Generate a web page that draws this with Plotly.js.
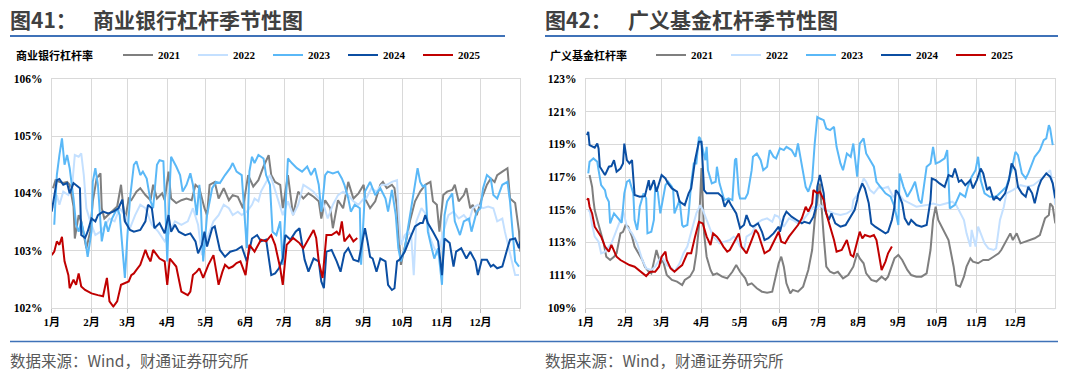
<!DOCTYPE html>
<html>
<head>
<meta charset="utf-8">
<script src="https://cdn.plot.ly/plotly-3.0.1.min.js"></script>
<style>html,body{margin:0;padding:0;background:#fff;}#chart{width:1080px;height:374px;}</style>
</head>
<body>
<div id="chart"></div>
<script>
// ---------- labels ----------
const monthStarts = [0,31,59,90,120,151,181,212,243,273,304,334];
const monthLabels = ['1月','2月','3月','4月','5月','6月','7月','8月','9月','10月','11月','12月'];
const years = ['2021','2022','2023','2024','2025'];
const yearColors = ['#7f7f7f','#c4e0ff','#5ab8f7','#0b4ea2','#c00000'];

// ---------- 商业银行杠杆率 (%), [day of year, value] ----------
const bank2021 = [[1,104.09],[3,104.23],[6,104.2],[9,104.18],[12,104.2],[14,104.15],[17,103.77],[18,103.21],[21,103.62],[23,103.51],[27,103.04],[30,103.33],[32,103.86],[35,104.26],[38,104.35],[39,103.74],[41,103.56],[47,103.68],[51,103.77],[54,104.15],[57,103.51],[60,103.91],[62,103.88],[66,104.03],[69,104.09],[73,103.97],[77,103.88],[79,104.15],[82,103.91],[86,104.0],[88,103.88],[91,104.38],[93,103.91],[97,103.83],[101,103.88],[105,103.91],[109,103.88],[112,104.15],[115,104.09],[119,103.74],[121,103.62],[123,104.15],[127,104.2],[130,103.91],[134,104.09],[138,103.88],[141,103.97],[145,103.94],[149,103.74],[153,104.32],[157,104.12],[161,104.23],[165,104.47],[169,104.67],[171,104.32],[174,104.2],[178,104.15],[180,103.74],[184,104.32],[188,103.62],[192,104.03],[196,103.91],[200,104.0],[204,103.94],[208,103.86],[210,103.56],[213,103.88],[217,103.74],[219,103.39],[223,103.88],[227,103.74],[231,104.2],[235,103.91],[239,104.0],[243,104.15],[244,103.91],[248,103.74],[252,103.86],[256,104.15],[258,104.2],[261,104.09],[265,104.15],[267,104.09],[269,103.74],[272,102.75],[276,103.16],[279,103.51],[283,103.86],[287,104.03],[291,104.15],[295,104.2],[297,103.86],[300,103.8],[302,103.33],[305,103.97],[308,104.03],[312,104.06],[314,104.15],[317,103.86],[321,103.97],[323,104.09],[326,103.74],[328,103.8],[331,103.62],[335,103.91],[339,104.15],[342,104.26],[345,104.2],[347,104.32],[351,104.38],[355,104.44],[357,103.91],[361,103.83],[364,103.33],[365,102.98]];
const bank2022 = [[2,103.74],[4,103.97],[6,103.8],[9,104.03],[13,103.97],[16,104.15],[18,104.67],[21,104.64],[23,104.7],[25,104.32],[27,103.74],[30,103.51],[34,103.27],[38,103.33],[42,103.45],[45,103.56],[49,103.51],[53,103.74],[57,103.62],[61,103.39],[65,103.62],[69,103.8],[73,103.74],[78,103.45],[83,103.33],[88,103.16],[92,103.33],[96,103.51],[101,103.45],[106,103.51],[110,103.74],[114,103.45],[117,102.92],[119,103.04],[122,103.27],[126,103.51],[130,103.62],[134,103.8],[138,103.74],[141,103.62],[145,103.68],[148,103.62],[152,103.68],[156,103.8],[158,103.91],[161,103.86],[163,104.03],[167,104.2],[170,104.32],[172,104.2],[177,103.86],[180,103.62],[184,103.86],[188,103.62],[192,103.8],[196,104.15],[200,104.09],[204,104.03],[208,103.91],[211,103.86],[215,103.56],[219,103.8],[223,103.97],[227,104.03],[231,103.97],[235,103.86],[239,103.8],[243,103.91],[245,103.91],[249,104.09],[253,104.03],[257,104.15],[261,104.15],[265,104.2],[269,104.23],[270,103.74],[272,103.1],[275,103.27],[278,103.33],[280,103.27],[282,102.57],[284,103.51],[288,103.74],[292,103.62],[294,103.27],[298,103.04],[301,102.92],[305,103.33],[309,103.62],[313,103.68],[317,103.56],[321,103.62],[325,103.51],[328,103.74],[332,103.8],[336,103.74],[340,103.77],[344,103.74],[347,103.51],[351,103.56],[353,103.33],[356,103.04],[359,102.75],[361,102.57],[364,102.57]];
const bank2023 = [[2,103.45],[4,104.32],[6,104.67],[8,104.96],[10,104.5],[12,104.67],[14,104.44],[17,103.91],[19,103.45],[21,103.33],[23,103.51],[26,103.21],[28,102.89],[31,103.33],[32,104.2],[34,104.44],[36,104.15],[38,103.51],[39,103.16],[42,103.51],[44,103.33],[47,103.56],[51,103.74],[53,103.62],[56,102.86],[57,102.52],[59,103.27],[61,103.91],[64,104.5],[66,104.56],[69,104.32],[71,104.38],[74,104.26],[77,103.86],[79,103.74],[82,104.5],[84,104.58],[87,104.56],[89,103.45],[90,102.81],[92,104.15],[93,104.64],[97,104.47],[100,104.32],[102,104.03],[105,104.15],[108,104.35],[110,104.15],[113,103.62],[115,104.15],[116,103.86],[118,102.81],[121,103.62],[125,104.09],[128,104.2],[131,104.18],[135,104.32],[139,104.44],[141,104.53],[144,104.38],[148,104.32],[151,103.42],[152,103.04],[154,104.38],[156,104.64],[158,104.53],[161,104.67],[165,104.61],[167,104.32],[170,104.15],[172,103.33],[175,103.27],[178,103.51],[180,102.75],[182,103.74],[184,104.61],[187,104.53],[191,104.44],[195,104.38],[199,104.47],[202,104.32],[205,104.44],[208,104.15],[210,103.68],[211,103.86],[213,104.32],[215,104.38],[219,104.35],[223,104.38],[226,104.26],[228,104.15],[231,103.91],[233,103.68],[236,103.8],[240,103.74],[241,102.75],[244,104.03],[248,104.2],[252,103.97],[256,104.09],[260,103.91],[262,103.68],[265,104.06],[268,103.62],[270,103.04],[272,102.81],[275,103.04],[280,103.74],[283,104.2],[285,104.44],[287,104.2],[289,104.12],[291,104.15],[293,103.33],[296,103.04],[298,102.86],[301,103.04],[304,102.4],[306,103.62],[308,103.86],[312,104.0],[314,103.51],[318,103.27],[321,103.51],[325,103.56],[327,103.33],[331,103.68],[334,103.74],[336,104.09],[339,104.32],[342,104.26],[344,103.97],[347,103.91],[349,104.03],[351,104.15],[355,104.2],[357,103.86],[359,103.33],[361,102.81],[364,102.72]];
const bank2024 = [[0,103.68],[4,104.23],[6,104.25],[9,104.15],[12,104.18],[14,104.0],[17,104.18],[19,104.15],[22,104.09],[23,103.27],[26,103.22],[28,103.33],[31,103.56],[34,103.51],[36,103.62],[40,103.68],[44,103.65],[48,103.68],[52,103.74],[55,103.89],[57,103.51],[61,103.36],[64,103.33],[69,103.36],[73,103.51],[75,103.8],[78,103.74],[80,103.39],[84,103.48],[88,103.3],[91,103.62],[93,103.33],[96,103.45],[99,103.33],[104,103.27],[108,103.3],[112,103.16],[114,102.95],[117,103.1],[119,103.33],[121,103.07],[125,103.39],[127,103.42],[131,103.01],[135,102.89],[139,102.98],[144,103.01],[148,103.07],[152,102.81],[156,103.21],[160,103.27],[163,103.16],[167,103.19],[171,102.57],[174,102.6],[177,102.69],[180,102.86],[182,103.27],[186,103.19],[190,103.33],[193,103.39],[197,102.84],[200,102.63],[204,102.86],[208,102.81],[210,102.46],[212,102.34],[214,102.98],[218,103.01],[222,102.81],[225,102.63],[228,102.95],[231,103.04],[235,102.84],[239,102.81],[241,103.04],[244,103.39],[246,103.16],[248,102.89],[250,102.86],[253,102.63],[256,102.86],[260,102.81],[262,102.4],[265,102.31],[267,102.34],[269,102.81],[271,102.84],[275,102.98],[279,103.21],[283,103.42],[287,103.48],[289,103.48],[291,103.62],[293,103.48],[297,103.33],[301,103.16],[304,102.57],[306,103.21],[310,103.13],[313,102.72],[315,102.98],[319,103.04],[323,102.86],[326,102.98],[330,102.81],[332,102.57],[335,102.84],[339,102.84],[342,102.72],[344,102.75],[347,102.69],[351,102.72],[355,103.04],[357,103.19],[361,103.21],[364,103.04],[365,103.16]];
const bank2025 = [[0,102.92],[2,102.98],[4,103.16],[6,103.1],[8,103.24],[9,103.04],[10,102.81],[13,102.57],[14,102.34],[17,102.49],[19,102.4],[21,102.6],[23,102.37],[26,102.31],[31,102.25],[36,102.22],[40,102.2],[43,102.52],[45,102.11],[48,102.02],[51,102.11],[54,102.4],[60,102.46],[62,102.57],[64,102.6],[66,102.66],[69,102.75],[73,103.01],[75,102.89],[77,102.81],[79,103.01],[82,102.92],[84,102.86],[88,102.81],[90,102.4],[92,102.86],[95,102.78],[97,102.72],[101,102.28],[106,102.22],[108,102.28],[110,102.57],[113,102.63],[115,102.69],[118,102.52],[122,102.75],[126,102.92],[130,102.4],[133,102.63],[135,102.75],[138,102.69],[141,102.72],[144,102.78],[147,102.81],[151,102.57],[154,103.1],[158,102.98],[163,103.19],[167,103.16],[171,103.27],[174,103.1],[178,102.69],[180,102.4],[183,103.1],[188,103.22],[193,103.13],[196,103.04],[199,103.16],[204,103.36],[206,103.22],[208,102.81],[211,102.52],[214,103.27],[218,103.27],[222,103.33],[224,103.27],[226,103.51],[228,103.16],[232,103.27],[235,103.16],[238,103.22]];

// ---------- 广义基金杠杆率 (%), [day of year, value] ----------
const fund2021 = [[3,117.12],[5,116.4],[6,115.59],[7,114.98],[9,114.37],[11,113.76],[14,112.94],[16,112.12],[19,111.92],[22,112.12],[24,112.33],[27,113.55],[29,113.65],[31,114.06],[33,113.96],[36,113.35],[38,112.74],[41,112.33],[44,111.92],[46,111.51],[49,111.2],[51,111.1],[54,112.33],[55,112.53],[58,111.72],[60,111.92],[63,111.0],[67,110.7],[71,110.6],[75,110.39],[77,110.7],[81,110.9],[84,111.31],[86,112.33],[88,113.96],[90,117.55],[92,113.55],[94,112.12],[97,111.31],[99,111.0],[102,111.1],[106,110.9],[110,110.8],[114,111.2],[117,111.61],[120,111.2],[124,110.8],[126,110.39],[129,110.49],[133,110.19],[137,109.98],[141,109.92],[145,109.98],[147,110.7],[150,111.72],[152,112.12],[154,111.51],[156,110.49],[159,109.88],[161,110.09],[165,109.98],[169,110.29],[173,111.31],[176,112.53],[178,114.37],[180,115.59],[182,116.6],[185,113.35],[187,111.51],[190,111.2],[193,111.1],[196,111.2],[200,110.8],[204,111.0],[208,111.51],[211,112.33],[213,112.02],[216,111.72],[218,111.1],[222,110.7],[226,110.6],[230,110.9],[233,110.7],[235,110.9],[238,111.51],[240,112.02],[243,112.23],[246,111.92],[250,111.31],[253,111.0],[257,110.9],[261,110.9],[265,111.1],[268,112.53],[270,114.37],[272,115.18],[274,114.37],[278,113.76],[282,113.14],[286,111.51],[288,110.39],[291,110.29],[294,110.9],[296,111.51],[299,112.02],[301,111.82],[305,111.72],[309,111.92],[313,111.92],[317,112.12],[321,112.33],[323,112.53],[327,113.14],[330,113.55],[332,113.14],[335,113.55],[338,112.94],[342,113.04],[345,113.14],[349,113.25],[353,113.45],[357,114.47],[360,114.67],[361,115.38],[363,115.18],[365,114.16]];
const fund2022 = [[2,114.88],[3,114.98],[5,114.06],[7,113.35],[10,113.04],[12,112.33],[15,112.43],[18,112.74],[20,112.94],[23,113.55],[27,114.37],[29,114.98],[32,113.96],[36,113.55],[40,112.94],[44,111.92],[47,111.41],[51,111.31],[54,111.51],[57,111.92],[59,112.12],[63,111.61],[67,111.41],[69,111.2],[73,111.72],[76,112.33],[79,112.74],[81,113.35],[84,114.16],[86,114.77],[89,115.28],[91,114.98],[94,114.37],[97,113.76],[99,113.35],[102,113.14],[104,112.94],[108,113.04],[112,113.14],[115,113.35],[117,113.25],[120,112.74],[123,112.53],[125,113.35],[129,113.55],[133,114.16],[137,114.37],[141,114.47],[145,114.26],[147,114.67],[150,114.57],[154,113.96],[158,114.47],[161,114.37],[165,114.16],[169,114.37],[173,114.77],[177,115.18],[180,115.1],[182,115.28],[187,114.98],[193,114.77],[198,114.67],[203,114.77],[207,114.98],[208,115.59],[212,116.0],[216,116.91],[218,116.71],[221,116.2],[224,116.0],[228,116.4],[231,116.3],[235,116.4],[239,115.79],[243,116.0],[247,115.59],[252,115.39],[257,115.18],[265,115.28],[270,115.38],[275,115.28],[281,115.38],[285,115.49],[288,115.28],[294,114.37],[296,113.55],[299,112.74],[300,113.76],[303,112.74],[305,113.96],[308,113.35],[310,112.94],[313,112.63],[317,112.53],[319,112.63],[322,114.37],[325,115.18],[327,116.0],[332,116.2],[338,116.5],[343,116.4],[348,116.5],[353,116.81],[358,117.22],[361,117.42],[363,116.61],[365,115.3]];
const fund2023 = [[2,117.22],[3,117.93],[6,118.14],[9,117.93],[10,117.42],[11,116.81],[12,116.5],[15,116.2],[16,115.79],[18,115.49],[19,114.16],[22,114.77],[25,114.5],[28,114.2],[30,116.0],[32,116.71],[34,116.81],[37,116.0],[38,114.37],[40,113.76],[41,114.37],[42,115.18],[45,116.0],[47,115.69],[48,113.55],[51,113.65],[53,114.37],[54,116.4],[56,116.1],[58,114.77],[62,116.5],[64,116.71],[67,116.4],[68,116.2],[69,114.77],[71,115.18],[73,115.59],[75,114.06],[76,113.96],[79,114.06],[80,114.77],[82,116.61],[84,117.83],[86,117.83],[88,119.46],[89,119.36],[91,118.75],[93,118.03],[94,118.85],[95,117.42],[98,116.61],[101,116.71],[102,117.63],[104,116.61],[107,115.79],[108,115.59],[111,115.69],[114,115.59],[116,118.03],[117,118.14],[119,116.0],[120,115.69],[124,115.69],[126,116.0],[129,117.42],[130,118.24],[133,118.44],[136,118.03],[138,117.42],[141,117.63],[143,118.65],[146,118.24],[148,118.14],[151,118.75],[154,118.65],[156,118.85],[160,118.65],[163,118.24],[165,119.05],[168,117.63],[171,116.4],[173,116.1],[176,116.81],[178,119.05],[180,120.68],[182,120.58],[185,120.48],[187,119.97],[190,119.87],[193,120.07],[195,118.85],[198,117.83],[200,117.42],[203,118.44],[206,118.24],[208,119.05],[211,117.02],[213,119.05],[216,119.36],[218,118.44],[221,118.03],[224,117.63],[226,116.71],[229,116.4],[233,116.0],[237,115.79],[240,115.18],[243,114.06],[244,117.22],[247,116.4],[250,115.79],[253,116.2],[256,116.71],[259,115.59],[261,115.39],[265,117.63],[268,117.83],[270,118.85],[272,117.83],[275,117.93],[279,118.14],[281,118.65],[283,115.08],[287,115.3],[291,116.0],[295,115.79],[297,116.4],[300,117.02],[303,117.42],[305,118.24],[307,116.81],[310,116.0],[314,115.79],[319,115.79],[323,116.1],[327,116.4],[331,117.42],[334,118.54],[336,118.34],[339,117.22],[342,116.91],[344,117.22],[347,117.83],[349,118.24],[352,118.54],[353,118.65],[356,119.26],[358,119.36],[360,120.17],[361,119.97],[363,118.95]];
const fund2024 = [[1,119.56],[2,119.77],[3,118.95],[7,118.8],[9,119.05],[10,118.75],[11,117.63],[15,117.12],[18,117.63],[20,117.67],[22,118.03],[24,117.32],[27,117.52],[29,117.83],[30,119.05],[32,118.03],[34,117.83],[36,118.03],[38,115.9],[42,115.79],[46,115.83],[49,116.81],[50,116.2],[53,116.81],[55,116.1],[59,117.12],[62,116.91],[64,116.61],[67,116.3],[71,116.1],[73,115.49],[77,115.28],[80,116.0],[82,116.3],[85,118.03],[88,119.16],[90,119.16],[92,116.2],[94,116.0],[99,116.0],[103,116.0],[106,115.79],[108,115.18],[111,115.59],[113,115.28],[117,114.77],[120,113.86],[123,114.06],[125,114.67],[128,114.06],[130,113.96],[134,114.16],[137,113.65],[139,113.14],[142,113.25],[146,113.55],[150,113.96],[151,113.65],[154,114.57],[156,114.88],[160,114.57],[164,114.37],[168,114.16],[170,114.26],[174,114.16],[177,114.57],[179,115.18],[180,116.4],[182,117.12],[185,116.0],[186,114.98],[189,114.37],[191,114.77],[194,114.16],[198,113.96],[202,114.06],[206,114.57],[209,114.98],[211,115.59],[212,116.0],[215,116.61],[217,116.3],[220,115.39],[222,114.16],[225,113.96],[229,113.76],[233,113.55],[235,113.65],[238,114.37],[240,115.18],[241,116.2],[243,116.0],[246,115.39],[248,114.47],[251,114.06],[253,114.37],[257,114.06],[261,113.96],[265,114.06],[266,114.57],[268,115.59],[269,116.91],[272,116.81],[275,116.61],[279,116.4],[282,117.12],[285,117.02],[287,117.52],[290,116.71],[292,116.81],[295,116.5],[299,116.81],[301,116.3],[304,116.81],[307,117.52],[309,117.22],[312,116.2],[314,116.4],[317,115.59],[319,115.79],[322,115.59],[326,116.0],[329,116.81],[331,117.83],[334,117.42],[336,116.4],[339,116.0],[342,115.79],[344,116.4],[347,116.0],[349,115.39],[352,116.4],[354,116.81],[358,117.22],[361,117.02],[363,116.61],[365,115.69]];
const fund2025 = [[1,115.59],[2,115.69],[3,115.18],[5,114.77],[7,113.96],[10,113.55],[12,113.35],[15,112.74],[18,112.43],[20,112.84],[22,112.53],[24,112.12],[27,111.92],[31,111.72],[34,111.61],[38,111.51],[41,111.31],[44,111.1],[47,110.94],[50,111.2],[54,111.2],[57,111.51],[59,112.12],[62,112.43],[63,111.92],[66,111.41],[69,111.2],[72,111.41],[75,111.61],[79,112.33],[82,112.33],[85,113.35],[88,114.26],[91,114.16],[94,113.35],[97,112.84],[99,113.55],[102,113.35],[104,113.14],[107,112.74],[110,112.43],[112,112.53],[115,112.94],[119,113.55],[121,112.74],[125,112.33],[129,113.14],[132,113.76],[134,113.55],[137,112.74],[139,112.33],[143,112.53],[147,113.14],[150,113.65],[152,113.04],[155,112.94],[158,113.35],[161,113.65],[165,114.06],[168,114.47],[171,115.18],[173,114.88],[176,115.38],[177,116.2],[180,116.0],[182,116.1],[185,115.59],[187,114.77],[190,113.96],[193,113.14],[195,112.43],[199,112.53],[203,113.14],[206,112.23],[208,112.12],[211,112.94],[213,113.65],[215,113.25],[217,113.45],[221,113.35],[224,113.45],[226,113.14],[228,112.12],[230,111.31],[233,111.82],[235,112.33],[238,112.74]];

const bankSeries = [bank2021, bank2022, bank2023, bank2024, bank2025];
const fundSeries = [fund2021, fund2022, fund2023, fund2024, fund2025];

// ---------- layout helpers ----------
const W = 1080, H = 374;
const px = x => x / W;
const py = y => 1 - y / H;

const serif = 'Times New Roman, Liberation Serif, Noto Sans CJK SC, serif';
const cjk = 'Noto Sans CJK SC, sans-serif';
const ruleBlue = '#3f72b8';
const gridCol = '#d9d9d9';

const traces = [];
function addSeries(seriesList, xa, ya, legendName) {
  seriesList.forEach((s, i) => {
    traces.push({
      type: 'scatter', mode: 'lines',
      x: s.map(p => p[0]), y: s.map(p => p[1]),
      name: years[i], xaxis: xa, yaxis: ya, legend: legendName,
      line: { color: yearColors[i], width: 2 },
      hoverinfo: 'skip'
    });
  });
}
addSeries(bankSeries, 'x', 'y', 'legend');
addSeries(fundSeries, 'x2', 'y2', 'legend2');

function xAxis(domain, anchor) {
  return {
    domain: domain, anchor: anchor, range: [0, 365],
    tickmode: 'array', tickvals: monthStarts, ticktext: monthLabels,
    showgrid: true, gridcolor: gridCol, gridwidth: 1,
    showline: true, linecolor: gridCol, linewidth: 1, mirror: true,
    ticks: 'outside', ticklen: 4, tickcolor: '#bfbfbf',
    tickfont: { family: serif, size: 11, color: '#000', weight: 700 },
    zeroline: false, fixedrange: true, automargin: false
  };
}
function yAxis(domain, anchor, range, dtick) {
  return {
    domain: domain, anchor: anchor, range: range, dtick: dtick, tick0: range[0],
    ticksuffix: '%',
    showgrid: true, gridcolor: gridCol, gridwidth: 1,
    showline: true, linecolor: gridCol, linewidth: 1, mirror: true,
    ticks: '', ticklabelstandoff: 6,
    tickfont: { family: serif, size: 11.5, color: '#000', weight: 700 },
    zeroline: false, fixedrange: true, automargin: false
  };
}

const legendBase = {
  orientation: 'h', xanchor: 'left', yanchor: 'middle',
  entrywidth: 30, entrywidthmode: 'pixels', itemwidth: 30,
  bgcolor: 'rgba(0,0,0,0)', borderwidth: 0,
  font: { family: serif, size: 11, color: '#000', weight: 700 },
  traceorder: 'normal', itemclick: false, itemdoubleclick: false
};

const titleFont = { family: cjk, size: 21, color: '#404040', weight: 700 };
const noteFont = { family: cjk, size: 15.5, color: '#595959' };
const axisNameFont = { family: 'Noto Sans CJK SC, serif', size: 11, color: '#000', weight: 700 };

function ann(text, x, y, font) {
  return { text: text, xref: 'paper', yref: 'paper', x: px(x), y: py(y),
    xanchor: 'left', yanchor: 'middle', showarrow: false, font: font };
}

const layout = {
  width: W, height: H,
  margin: { l: 0, r: 0, t: 0, b: 0, autoexpand: false },
  paper_bgcolor: '#fff', plot_bgcolor: '#fff',
  showlegend: true,
  xaxis: xAxis([px(51.7), px(520.3)], 'y'),
  yaxis: yAxis([py(307.7), py(79)], 'x', [102, 106], 1),
  xaxis2: xAxis([px(585.7), px(1055.3)], 'y2'),
  yaxis2: yAxis([py(307.7), py(79)], 'x2', [109, 123], 2),
  legend: Object.assign({}, legendBase, { x: px(118), y: py(55) }),
  legend2: Object.assign({}, legendBase, { x: px(651), y: py(55) }),
  annotations: [
    ann('图41：', 8, 19, titleFont),
    ann('商业银行杠杆季节性图', 91, 19, titleFont),
    ann('图42：', 543, 19, titleFont),
    ann('广义基金杠杆季节性图', 626, 19, titleFont),
    ann('商业银行杠杆率', 14, 55, axisNameFont),
    ann('广义基金杠杆率', 548, 55, axisNameFont),
    ann('数据来源：Wind，财通证券研究所', 8, 360, noteFont),
    ann('数据来源：Wind，财通证券研究所', 543, 360, noteFont)
  ],
  shapes: [
    { type: 'line', xref: 'paper', yref: 'paper', x0: px(10), x1: px(505), y0: py(36), y1: py(36), line: { color: ruleBlue, width: 2 } },
    { type: 'line', xref: 'paper', yref: 'paper', x0: px(545), x1: px(1058), y0: py(36), y1: py(36), line: { color: ruleBlue, width: 2 } },
    { type: 'line', xref: 'paper', yref: 'paper', x0: px(10), x1: px(1058), y0: py(341.5), y1: py(341.5), line: { color: ruleBlue, width: 1.5 } }
  ]
};

Plotly.newPlot('chart', traces, layout, { staticPlot: true, displayModeBar: false });
</script>
</body>
</html>
